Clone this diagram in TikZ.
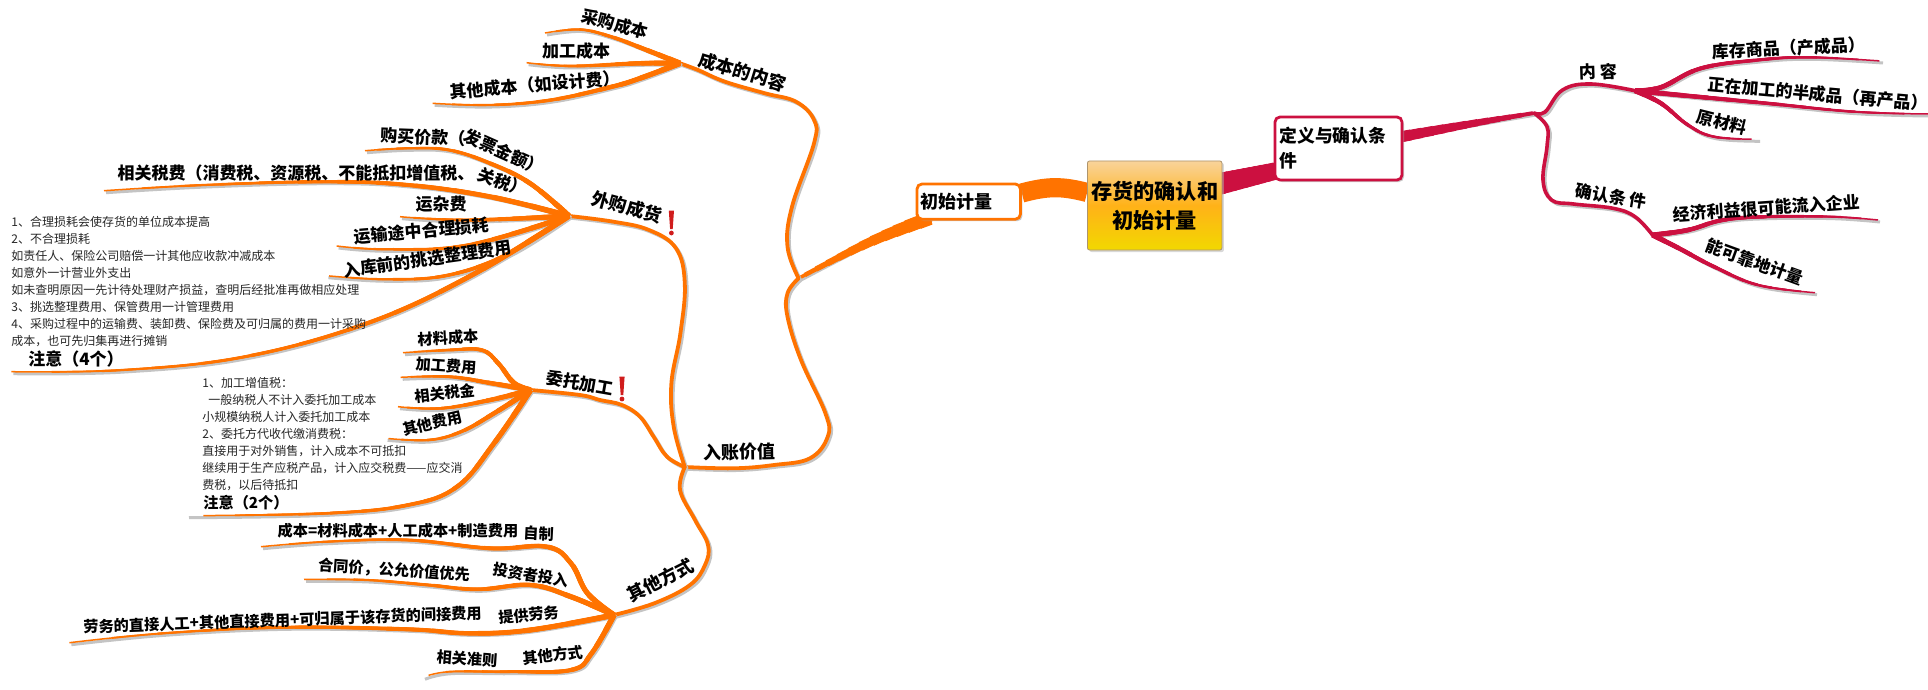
\documentclass[tikz,border=0pt]{standalone}
\usepackage{fontspec}
\setmainfont{Noto Sans CJK SC}
\usetikzlibrary{backgrounds,shadows}
\definecolor{brO}{HTML}{FF7300}
\definecolor{brR}{HTML}{CC1040}
\definecolor{shd}{HTML}{C4C4C4}
\definecolor{bangR}{HTML}{D01C1C}
\definecolor{ctrT}{HTML}{F9D39A}
\definecolor{ctrM}{HTML}{FFB218}
\definecolor{ctrB}{HTML}{F2D800}
\newcommand\trunk[3]{%
  \draw[shd,line width=1.7pt,transform canvas={xshift=1pt,yshift=-1pt}] plot[smooth,tension=.65] coordinates {#3};
  \draw[#1,line width=#2pt,line cap=round] plot[smooth,tension=.65] coordinates {#3};}
\newcommand\taper[5]{% colour, thick width px, thin width px, length px, points
  \draw[shd,line width=1.5pt,transform canvas={xshift=1pt,yshift=-1pt}] plot[smooth,tension=.65] coordinates {#5};
  \foreach \k in {0,...,11}{%
    \pgfmathsetmacro\wd{(#3+(#2-#3)*\k/11)*.5}%
    \pgfmathsetmacro\ln{#4*.5*(1-\k/12)}%
    \draw[#1,line width=\wd pt,dash pattern=on \ln pt off 5000pt] plot[smooth,tension=.65] coordinates {#5};
  }}
\newcommand\bang[2]{%
  \fill[bangR] (#1-2.6,#2-12.5) -- (#1+2.6,#2-12.5) -- (#1+1.3,#2+6) -- (#1-1.3,#2+6) -- cycle;
  \fill[bangR] (#1,#2+10) circle[radius=2.4];}
\tikzset{
  lab/.style={font=\bfseries\fontsize{8.5}{10}\selectfont,inner sep=0pt,text=black},
  labs/.style={font=\bfseries\fontsize{7.6}{9}\selectfont,inner sep=0pt,text=black},
  note/.style={font=\fontsize{6}{8.5}\selectfont,inner sep=0pt,align=left,anchor=north west,text=black!85},
  box/.style={rounded corners=2.5pt,fill=white,align=left,inner sep=0pt,
    drop shadow={shadow xshift=1pt,shadow yshift=-1pt,fill=black!35,opacity=.6}},
}
\begin{document}
\begin{tikzpicture}[x=0.5pt,y=-0.5pt]
\useasboundingbox (0,0) rectangle (1928,690);
% central and first-level nodes
\node[draw=ctrT!70!black,line width=.4pt,rounded corners=1pt,top color=ctrT,bottom color=ctrB,middle color=ctrM,
  minimum width=67.2pt,minimum height=44.5pt,inner sep=0pt,align=center,
  font=\bfseries\fontsize{10.6}{14.5}\selectfont,
  drop shadow={shadow xshift=1pt,shadow yshift=-1pt,fill=black!30,opacity=.5}] (center) at (1154.7,205.5) {存货的确认和\\初始计量};
\node[box,draw=brO,line width=1.4pt,minimum width=51.7pt,minimum height=17.6pt,text width=48pt,
  font=\bfseries\fontsize{9}{11}\selectfont] (init) at (968.7,201.6) {初始计量};
\node[box,draw=brR,line width=1.4pt,minimum width=63.5pt,minimum height=31.5pt,text width=59pt,
  font=\bfseries\fontsize{8.9}{12.5}\selectfont] (defn) at (1338.5,148.5) {定义与确认条\\件};
% junctions
\coordinate (hubR) at (1534,113);
\coordinate (hubNr) at (1635,90.7);
\coordinate (hubQr) at (1652.5,235);
\coordinate (hubL) at (798.6,278.3);
\coordinate (hubCb) at (680,63.3);
\coordinate (hubZ) at (684.8,467);
\coordinate (hubWg) at (569,216);
\coordinate (hubWt) at (530.6,390);
\coordinate (hubQt) at (614,615);
\coordinate (tipKc) at (1881,61);
\coordinate (tipZz) at (1928,114);
\coordinate (tipYc) at (1758,139.3);
\coordinate (tipJj) at (1878,220);
\coordinate (tipKk) at (1815,292.7);
\coordinate (tipCg) at (545,33);
\coordinate (tipJg) at (526.6,62.7);
\coordinate (tipQt) at (432.6,103.3);
\coordinate (tipGm) at (365,150.7);
\coordinate (tipXg) at (104,190.7);
\coordinate (tipYz) at (400,216.7);
\coordinate (tipYs) at (336.6,246);
\coordinate (tipRk) at (326.4,275.7);
\coordinate (tipZy) at (11.4,371.7);
\coordinate (tipCl) at (403,352.7);
\coordinate (tipJf) at (400.7,377.3);
\coordinate (tipSj) at (398,406.7);
\coordinate (tipQf) at (385.6,438.3);
\coordinate (tipZe) at (187,515.7);
\coordinate (tipCb) at (261,546.7);
\coordinate (tipHt) at (304,579.3);
\coordinate (tipLw) at (69.4,642.7);
\coordinate (tipZz2) at (423,677.3);
\begin{scope}[on background layer]
\fill[white] (0,0) rectangle (1928,690);
% main bands
\draw[brO,line width=9.6pt] ([yshift=6.5pt]center.west) .. controls (1062,186) and (1048,186) .. ([yshift=4.3pt]init.east);
\taper{brR}{22}{17}{70}{([xshift=-5pt,yshift=10pt]center.east) (1280,170)}
\taper{brR}{11}{4}{135}{(1400,137) (1470,124) (hubR)}
\taper{brO}{14}{3.5}{150}{(930,218) (870,242) (hubL)}
% right side
\trunk{brR}{1.8}{(hubR) (1545,112) (1562.5,90) (1591,84) (hubNr)}
\trunk{brR}{1.8}{(hubR) (1547,126.7) (1547,146.7) (1543,180) (1551.5,200) (1573.5,204) (1613,208.3) (1635,216.7) (hubQr)}
\taper{brR}{5}{1.5}{250}{(hubNr) (1661,87.3) (1701,68.3) (1758,60) (1810,57.3) (tipKc)}
\taper{brR}{5}{1.5}{295}{(hubNr) (1679,95) (1767,103.3) (1854,111.7) (tipZz)}
\taper{brR}{5}{1.5}{130}{(hubNr) (1661,103.3) (1688,125) (1714,136.7) (tipYc)}
\taper{brR}{5}{1.5}{230}{(hubQr) (1688,230) (1723,220) (1767,216.7) (1832,216.7) (tipJj)}
\taper{brR}{5}{1.5}{175}{(hubQr) (1679,248.3) (1714,266.7) (1758,285) (tipKk)}
% left trunks
\trunk{brO}{1.9}{(hubL) (787.5,246.7) (792,206.7) (814,143.3) (814,120) (796,101.7) (765,93.3) (725,81.7) (698,70) (hubCb)}
\trunk{brO}{1.9}{(hubL) (787.5,293.3) (787.5,316.7) (801,360) (825.4,413.3) (827.7,436.7) (810,458.3) (774,465) (734,468.3) (hubZ)}
\trunk{brO}{1.9}{(hubZ) (673.7,426.7) (671.4,383.3) (680.4,333.3) (684.8,283.3) (676,248.3) (649,230) (613.4,221.7) (hubWg)}
\trunk{brO}{1.9}{(hubZ) (667,456.7) (653.6,436.7) (640,416.7) (622,405) (600,400) (580,395) (hubWt)}
\trunk{brO}{1.9}{(hubZ) (680,490) (695,520) (708,545) (705,565) (690,585) (655,603) (hubQt)}
% cost-content leaves
\taper{brO}{5.5}{1.5}{142}{(hubCb) (644,49) (612,37) (580,29.5) (tipCg)}
\taper{brO}{5.5}{1.5}{155}{(hubCb) (640,63.3) (571,66) (tipJg)}
\taper{brO}{5.5}{1.5}{255}{(hubCb) (640,78.3) (612,86.7) (551,100) (490,105) (tipQt)}
% purchase leaves
\taper{brO}{5.5}{1.5}{230}{(hubWg) (530,183.3) (490,163.3) (449,150) (408,148.3) (tipGm)}
\taper{brO}{5.5}{1.5}{470}{(hubWg) (490,196.7) (408,185) (326,181.7) (204,185) (tipXg)}
\taper{brO}{5.5}{1.5}{170}{(hubWg) (469,220) (tipYz)}
\taper{brO}{5.5}{1.5}{240}{(hubWg) (469,245) (388,249.3) (tipYs)}
\taper{brO}{5.5}{1.5}{255}{(hubWg) (510,253.3) (449,275) (388,279.3) (tipRk)}
\taper{brO}{5.5}{1.5}{600}{(hubWg) (469,276.7) (367,323.3) (245,356.7) (122.4,370) (tipZy)}
% processing leaves
\taper{brO}{5.5}{1.5}{145}{(hubWt) (514,383) (498,363) (481.5,350) (449,350) (tipCl)}
\taper{brO}{5.5}{1.5}{132}{(hubWt) (490,383) (449,376.7) (tipJf)}
\taper{brO}{5.5}{1.5}{137}{(hubWt) (490,400) (441,408.3) (tipSj)}
\taper{brO}{5.5}{1.5}{155}{(hubWt) (494,413.3) (461,431.7) (428.4,440) (tipQf)}
\taper{brO}{5.5}{1.5}{380}{(hubWt) (494,443.3) (457,486.7) (408,505) (326.4,513.3) (tipZe)}
% other-way leaves
\taper{brO}{5.5}{1.5}{390}{(hubQt) (587.5,593.3) (571,563.3) (546.7,546.7) (490,548.3) (408,540) (326.4,541.7) (tipCb)}
\taper{brO}{5.5}{1.5}{320}{(hubQt) (571,596.7) (530.4,585) (477.4,589.3) (428.4,585) (367,580) (tipHt)}
\taper{brO}{5.5}{1.5}{550}{(hubQt) (530.4,630) (469,633.3) (408,629.3) (285.6,627.3) (163,633.3) (tipLw)}
\taper{brO}{5.5}{1.5}{215}{(hubQt) (591.6,653.3) (571,670) (510,671.7) (449,671.7) (tipZz2)}
\end{scope}
% right labels
\node[lab,rotate=2] (lNr) at (1598.5,71.7) {内\hspace{2pt}容};
\node[lab,rotate=3] (lKc) at (1789,48) {库存商品（产成品）};
\node[lab,rotate=-5] (lZz) at (1818,94) {正在加工的半成品（再产品）};
\node[lab,rotate=-14] (lYc) at (1722,122) {原材料};
\node[lab,rotate=-10] (lQr) at (1611,196) {确认条\hspace{1.5pt}件};
\node[lab,rotate=4] (lJj) at (1766.6,208) {经济利益很可能流入企业};
\node[lab,rotate=-20] (lKk) at (1755,262) {能可靠地计量};
% cost
\node[lab,rotate=-15] (lCg) at (615,24) {采购成本};
\node[lab] (lJg) at (576,51) {加工成本};
\node[lab,rotate=5] (lQt) at (535,85) {其他成本（如设计费）};
\node[lab,font=\bfseries\fontsize{9}{11}\selectfont,rotate=-17] (lCb) at (742.4,71.7) {成本的内容};
% purchase
\node[lab,font=\bfseries\fontsize{9}{11}\selectfont,rotate=-15] (lWg) at (627,207) {外购成货};
\bang{671.4}{223}
\node[lab,rotate=-2] (lGm) at (423,137) {购买价款（};
\node[lab,rotate=-24] (lGm2) at (504,152) {发票金额）};
\node[lab] (lXg) at (296,173) {相关税费（消费税、资源税、不能抵扣增值税、};
\node[lab,rotate=-20] (lXg2) at (503,182) {关税）};
\node[lab] (lYz) at (441,204) {运杂费};
\node[lab,rotate=5] (lYs) at (421.5,231) {运输途中合理损耗};
\node[lab,rotate=8] (lRk) at (427.5,259) {入库前的挑选整理费用};
\node[lab] (lZy) at (76,359) {注意（4个）};
\node[note] (nA) at (11,216) {1、合理损耗会使存货的单位成本提高\\2、不合理损耗\\如责任人、保险公司赔偿一计其他应收款冲减成本\\如意外一计营业外支出\\如未查明原因一先计待处理财产损益，查明后经批准再做相应处理\\3、挑选整理费用、保管费用一计管理费用\\4、采购过程中的运输费、装卸费、保险费及可归属的费用一计采购\\成本，也可先归集再进行摊销};
% processing
\node[lab,rotate=-10] (lWt) at (580,383) {委托加工};
\bang{622}{389}
\node[labs,rotate=3] (lCl) at (448,338) {材料成本};
\node[labs,rotate=-4] (lJf) at (446,366) {加工费用};
\node[labs,rotate=6] (lSj) at (445,393) {相关税金};
\node[labs,rotate=13] (lQf) at (432.5,423.3) {其他费用};
\node[labs] (lZe) at (246,503) {注意（2个）};
\node[note] (nB) at (202,377) {1、加工增值税：\\ \hspace{3pt}一般纳税人不计入委托加工成本\\小规模纳税人计入委托加工成本\\2、委托方代收代缴消费税：\\直接用于对外销售，计入成本不可抵扣\\继续用于生产应税产品，计入应交税费——应交消\\费税，以后待抵扣};
% entry
\node[lab,font=\bfseries\fontsize{9}{11}\selectfont,rotate=1] (lZ) at (739.5,452) {入账价值};
\node[lab,font=\bfseries\fontsize{9}{11}\selectfont,rotate=27] (lQm) at (660,580) {其他方式};
% other ways
\node[labs] (lCb2) at (398,531) {成本=材料成本+人工成本+制造费用};
\node[labs,rotate=-3] (lZi) at (538.6,534) {自制};
\node[labs,rotate=-4] (lHt) at (394,570) {合同价，公允价值优先};
\node[labs,rotate=-9] (lTz) at (531,575) {投资者投入};
\node[labs,rotate=2] (lLw) at (282.5,620) {劳务的直接人工+其他直接费用+可归属于该存货的间接费用};
\node[labs,rotate=6] (lTg) at (529,615) {提供劳务};
\node[labs,rotate=-4] (lXz) at (467,659) {相关准则};
\node[labs,rotate=6] (lQw) at (553,655) {其他方式};
\end{tikzpicture}
\end{document}
